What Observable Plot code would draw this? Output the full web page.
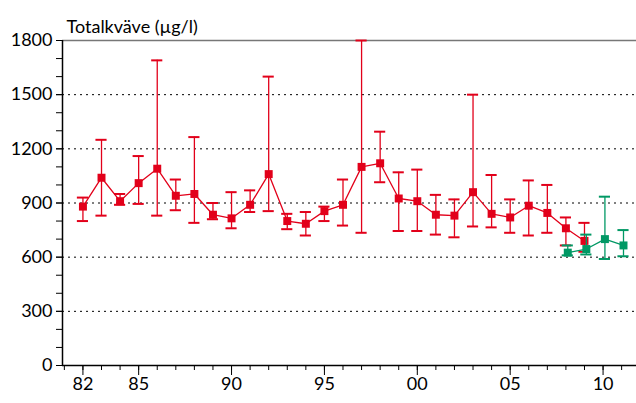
<!DOCTYPE html>
<html><head><meta charset="utf-8">
<script src="https://cdn.jsdelivr.net/npm/d3@7"></script>
<script src="https://cdn.jsdelivr.net/npm/@observablehq/plot@0.6"></script>
<style>body{margin:0;background:#fff}</style>
</head><body><div id="chart"></div>
<script>
// Röd serie 1982–2009
const years = d3.range(1982, 2010);
const mean = [880,1040,910,1010,1090,940,950,835,815,890,1060,800,785,855,890,1100,1120,925,910,835,830,960,840,820,885,845,760,690];
const low  = [800,830,890,895,830,860,790,810,760,850,855,755,720,800,775,735,1015,745,745,725,710,770,765,735,720,735,665,630];
const high = [930,1250,950,1160,1690,1030,1265,900,960,970,1600,840,850,880,1030,1800,1295,1070,1085,945,920,1500,1055,920,1025,1000,820,790];
// Grön serie 2008–2011
const gYears = [2008, 2009, 2010, 2011];
const gMean = [625, 645, 700, 665];
const gLow  = [610, 615, 590, 605];
const gHigh = [665, 725, 935, 750];
const xLabels = [1982, 1985, 1990, 1995, 2000, 2005, 2010];

const red = years.map((y, i) => ({year: y, v: mean[i], lo: low[i], hi: high[i]}));
const green = gYears.map((y, i) => ({year: y, v: gMean[i], lo: gLow[i], hi: gHigh[i]}));

const RED = "#e2001a", GREEN = "#009864";
const series = (data, c, dx) => [
  Plot.ruleX(data, {x: d => d.year + dx, y1: "lo", y2: "hi", stroke: c, strokeWidth: 1.3}),
  Plot.ruleY(data, {y: "lo", x1: d => d.year + dx - 0.3, x2: d => d.year + dx + 0.3, stroke: c, strokeWidth: 2}),
  Plot.ruleY(data, {y: "hi", x1: d => d.year + dx - 0.3, x2: d => d.year + dx + 0.3, stroke: c, strokeWidth: 2}),
  Plot.line(data, {x: d => d.year + dx, y: "v", stroke: c, strokeWidth: 1.3}),
  Plot.dot(data, {x: d => d.year + dx, y: "v", symbol: "square", fill: c, r: 4.5})
];

const chart = Plot.plot({
  width: 636, height: 403,
  marginTop: 40, marginBottom: 38, marginLeft: 62, marginRight: 0,
  style: {fontFamily: "Lato, 'DejaVu Sans', sans-serif", fontSize: "18px", color: "#000"},
  x: {domain: [1980.9, 2011.8], axis: null},
  y: {domain: [0, 1800], axis: null},
  marks: [
    Plot.ruleY([300, 600, 900, 1200, 1500], {stroke: "#000", strokeDasharray: "2,4", strokeWidth: 1}),
    Plot.ruleY([1800], {stroke: "#777", strokeWidth: 1.5}),
    Plot.axisY(d3.range(0, 1801, 100), {tickFormat: () => "", tickSize: 6, stroke: "#000", strokeOpacity: 1}),
    Plot.axisY(d3.range(0, 1801, 300), {tickSize: 6, tickPadding: 4, fontSize: 18, tickFormat: d => String(d), strokeOpacity: 1}),
    Plot.axisX(d3.range(1981, 2012), {tickFormat: () => "", tickSize: 5, strokeOpacity: 1}),
    Plot.axisX(xLabels, {tickSize: 10, tickPadding: 2, fontSize: 18, tickFormat: d => String(d).slice(2), strokeOpacity: 1}),
    Plot.ruleX([1980.9], {stroke: "#000", strokeWidth: 1.5}),
    Plot.ruleY([0], {stroke: "#000", strokeWidth: 1.5}),
    ...series(red, RED, 0),
    ...series(green, GREEN, 0.1),
    Plot.text(["Totalkväve (µg/l)"], {frameAnchor: "top-left", dx: 4, dy: -20, textAnchor: "start", fontSize: 18})
  ]
});
document.getElementById("chart").append(chart);
</script></body></html>
